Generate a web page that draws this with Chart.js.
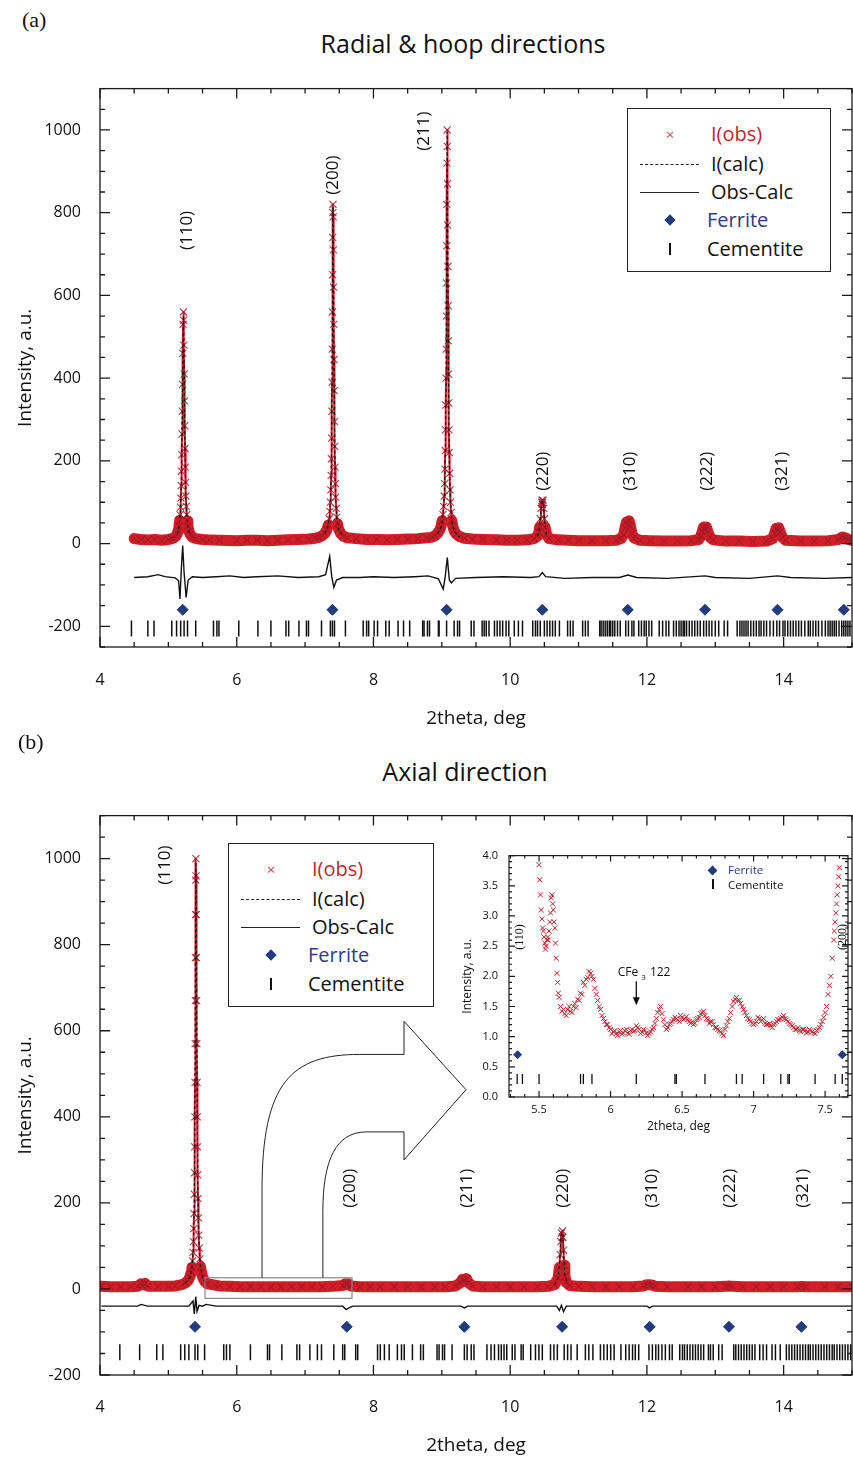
<!DOCTYPE html>
<html>
<head>
<meta charset="utf-8">
<script src="https://cdn.jsdelivr.net/npm/chart.js@4.4.1/dist/chart.umd.min.js"></script>
<style>
  body { margin: 0; background: #fff; font-family: 'Open Sans', sans-serif; color: #111; }
  #page { position: relative; width: 853px; height: 1459px; overflow: hidden; }
  canvas { position: absolute; }
  .abs { position: absolute; white-space: nowrap; }
  .plab { font-family: 'Liberation Serif', serif; font-size: 22px; line-height: 22px; }
  .ttl { font-size: 25px; line-height: 25px; transform: translateX(-50%); }
  .leg { position: absolute; border: 1.3px solid #222; background: #fff; z-index: 5; }
  .leg .t { position: absolute; font-size: 20px; line-height: 24px; transform: translateY(-50%); }
  .ileg { position: absolute; font-size: 11.5px; line-height: 12px; z-index: 5; transform: translateY(-50%); }
</style>
</head>
<body>
<div id="page">
  <div class="abs plab" style="left:22px;top:9px">(a)</div>
  <div class="abs ttl" style="left:463px;top:31px">Radial &amp; hoop directions</div>
  <canvas id="chartA" width="853" height="680" style="left:0;top:60px"></canvas>
  <div class="leg" id="legA" style="left:627px;top:108px;width:202px;height:162px"></div>

  <div class="abs plab" style="left:18px;top:731px">(b)</div>
  <div class="abs ttl" style="left:465px;top:759px">Axial direction</div>
  <canvas id="chartB" width="853" height="672" style="left:0;top:787px"></canvas>
  <div class="leg" id="legB" style="left:228px;top:843px;width:204px;height:162px"></div>
  <canvas id="inset" width="396" height="300" style="left:455px;top:838px;z-index:3"></canvas>
  <div class="ileg" style="left:709px;top:870px"><span style="display:inline-block;width:7px;height:7px;background:#213b7e;transform:rotate(45deg)"></span></div>
  <div class="ileg" style="left:728px;top:870px;color:#2e3d82">Ferrite</div>
  <div class="ileg" style="left:712px;top:885px"><span style="display:inline-block;width:1.5px;height:10px;background:#111"></span></div>
  <div class="ileg" style="left:728px;top:885px">Cementite</div>
</div>

<script>
// ---------- data: panel (a) radial & hoop ----------
const xTicks = [4, 6, 8, 10, 12, 14];
const yTicksA = [-200, 0, 200, 400, 600, 800, 1000];
const yTicksB = [-200, 0, 200, 400, 600, 800, 1000];

const obsA = [
  [4.50,12],[4.60,10],[4.70,9],[4.80,10],[4.90,8],[5.00,10],[5.05,12],
  [5.08,14],[5.11,18],[5.13,24],[5.145,32],[5.155,42],[5.165,56],[5.172,70],[5.178,88],[5.183,110],[5.188,140],
  [5.192,175],[5.196,215],[5.20,265],[5.204,320],[5.208,385],[5.212,460],[5.216,530],[5.22,560],[5.224,540],
  [5.228,480],[5.232,410],[5.236,345],[5.24,285],[5.244,230],[5.248,185],[5.252,148],[5.257,115],[5.262,90],
  [5.268,70],[5.275,55],[5.285,42],[5.30,30],[5.32,22],[5.35,16],[5.40,12],
  [5.50,10],[5.60,9],[5.75,8],[6.00,7],[6.15,8],[6.30,8],[6.45,7],[6.60,8],[6.75,9],[6.90,10],[7.05,11],[7.15,13],
  [7.20,15],[7.25,19],[7.29,25],[7.32,34],[7.34,45],[7.352,60],[7.362,78],[7.37,100],[7.376,130],[7.381,165],
  [7.385,205],[7.389,255],[7.392,320],[7.395,390],[7.398,470],[7.40,560],[7.402,650],[7.404,740],[7.406,800],
  [7.408,820],[7.411,790],[7.414,710],[7.417,620],[7.42,530],[7.423,445],[7.426,370],[7.43,295],[7.434,235],
  [7.438,185],[7.443,145],[7.448,112],[7.455,85],[7.463,64],[7.473,48],[7.49,35],[7.52,25],[7.56,18],[7.62,14],
  [7.75,12],[7.90,10],[8.05,10],[8.20,9],[8.35,10],[8.50,11],[8.65,12],[8.78,14],
  [8.85,15],[8.90,19],[8.94,25],[8.97,33],[8.99,42],[9.005,55],[9.017,70],[9.027,90],[9.035,115],[9.041,145],
  [9.046,180],[9.051,225],[9.055,275],[9.059,335],[9.062,400],[9.065,470],[9.068,550],[9.07,630],[9.072,720],
  [9.074,820],[9.076,920],[9.078,1000],[9.08,960],[9.083,870],[9.086,770],[9.089,670],[9.092,575],[9.095,490],
  [9.098,410],[9.101,340],[9.105,275],[9.109,220],[9.114,170],[9.12,130],[9.127,100],[9.135,75],[9.145,56],
  [9.16,42],[9.18,31],[9.21,23],[9.26,17],[9.33,13],
  [9.45,11],[9.60,10],[9.80,9],[9.95,8],[10.10,8],[10.25,9],[10.35,12],[10.40,18],
  [10.42,28],[10.43,40],[10.44,60],[10.45,85],[10.46,100],[10.465,105],[10.47,95],[10.475,100],[10.48,105],
  [10.49,85],[10.50,60],[10.51,40],[10.53,22],[10.57,12],[10.70,9],[10.85,8],[11.00,7],[11.20,7],[11.40,7],[11.55,8],
  [11.62,12],[11.66,22],[11.68,38],[11.70,52],[11.72,46],[11.74,55],[11.76,42],[11.78,25],[11.81,14],[11.90,8],
  [12.05,7],[12.25,6],[12.45,6],[12.65,7],[12.76,10],[12.79,18],[12.81,30],[12.83,40],[12.85,33],[12.87,40],[12.89,30],
  [12.92,16],[12.97,9],[13.15,6],[13.35,6],[13.55,5],[13.75,6],[13.84,12],[13.87,25],[13.89,37],[13.91,32],[13.93,38],
  [13.95,28],[13.98,15],[14.03,8],[14.25,6],[14.45,6],[14.65,7],[14.80,10],[14.86,16],[14.90,14],[14.95,10],[15.00,8]
];
const calcA = [
  [5.13,22],[5.155,40],[5.172,68],[5.183,108],[5.192,172],[5.20,262],[5.208,382],[5.216,528],[5.22,552],[5.224,535],
  [5.232,405],[5.24,282],[5.248,182],[5.257,112],[5.268,68],[5.285,40],[5.32,21],[5.36,null],
  [7.29,24],[7.34,44],[7.362,76],[7.376,128],[7.385,202],[7.392,318],[7.398,468],[7.402,648],[7.406,798],
  [7.408,815],[7.411,785],[7.417,615],[7.423,440],[7.43,290],[7.438,182],[7.448,110],[7.463,62],[7.49,34],
  [7.56,17],[7.60,null],
  [8.94,24],[8.99,40],[9.017,68],[9.035,112],[9.046,178],[9.055,272],[9.062,398],[9.068,548],[9.072,718],
  [9.076,918],[9.078,995],[9.08,955],[9.086,765],[9.092,570],[9.098,405],[9.105,272],[9.114,168],[9.127,98],
  [9.145,55],[9.18,30],[9.26,16],[9.30,null],
  [10.40,18],[10.43,38],[10.45,82],[10.465,100],[10.475,98],[10.485,100],[10.50,60],[10.53,22],[10.56,null]
];
const diffA = [
  [4.50,-82],[4.70,-80],[4.85,-75],[4.95,-80],[5.10,-83],[5.15,-90],[5.17,-134],[5.19,-60],[5.21,-5],[5.23,-70],
  [5.26,-130],[5.29,-88],[5.35,-80],[5.50,-82],[5.70,-80],[5.90,-78],[6.10,-82],[6.30,-80],[6.60,-78],[6.90,-82],
  [7.20,-80],[7.30,-75],[7.36,-31],[7.39,-80],[7.42,-106],[7.46,-88],[7.55,-82],[7.80,-82],[8.00,-80],[8.30,-82],
  [8.60,-80],[8.80,-78],[8.95,-85],[9.02,-110],[9.05,-80],[9.08,-34],[9.11,-88],[9.14,-95],[9.20,-84],[9.50,-82],
  [9.90,-80],[10.30,-82],[10.42,-80],[10.47,-70],[10.52,-80],[10.80,-84],[11.20,-82],[11.60,-82],[11.72,-76],
  [11.85,-82],[12.30,-84],[12.85,-78],[13.00,-82],[13.50,-84],[13.91,-78],[14.10,-82],[14.60,-84],[15.00,-82]
];
const ferriteA = [5.21, 7.40, 9.07, 10.47, 11.72, 12.85, 13.91, 14.88];
const cementiteA = [
  4.46, 4.70, 4.79, 5.05, 5.12, 5.18, 5.23, 5.28, 5.40, 5.66, 5.71, 5.74, 6.03, 6.31, 6.50, 6.72, 6.76, 6.91, 7.02, 7.05,
  7.24, 7.37, 7.40, 7.43, 7.59, 7.85, 7.90, 7.93, 8.01, 8.06, 8.18, 8.23, 8.36, 8.44, 8.53, 8.72, 8.74, 8.79, 8.82, 8.95,
  8.96, 9.07, 9.18, 9.23, 9.26, 9.43, 9.47, 9.59, 9.62, 9.65, 9.69, 9.77, 9.81, 9.85, 9.89, 9.94, 9.98, 10.06, 10.12,
  10.18, 10.33, 10.37, 10.40, 10.44, 10.50, 10.54, 10.58, 10.62, 10.66, 10.72, 10.84, 10.88, 10.92, 11.06, 11.10, 11.14,
  11.31, 11.33, 11.36, 11.39, 11.42, 11.45, 11.47, 11.50, 11.53, 11.57, 11.61, 11.69, 11.73, 11.78, 11.81, 11.88, 11.92,
  11.96, 11.99, 12.03, 12.07, 12.18, 12.23, 12.28, 12.32, 12.39, 12.43, 12.47, 12.50, 12.53, 12.55, 12.58, 12.62, 12.66,
  12.70, 12.74, 12.78, 12.83, 12.87, 12.91, 12.95, 13.00, 13.05, 13.13, 13.18, 13.32, 13.36, 13.39, 13.42, 13.45, 13.48,
  13.52, 13.56, 13.60, 13.64, 13.67, 13.71, 13.75, 13.80, 13.85, 13.90, 13.94, 13.99, 14.02, 14.06, 14.10, 14.14, 14.18,
  14.22, 14.26, 14.31, 14.36, 14.39, 14.43, 14.47, 14.51, 14.56, 14.61, 14.65, 14.68, 14.71, 14.74, 14.77, 14.81, 14.85,
  14.88, 14.91, 14.94, 14.97
];
const hklA = ['(110)', '(200)', '(211)', '(220)', '(310)', '(222)', '(321)'];
const hklPosA = [[5.27,757],[7.41,891],[8.74,997],[10.48,175],[11.75,175],[12.88,175],[13.98,175]];

// ---------- data: panel (b) axial ----------
const obsB = [
  [4.02,6],[4.15,5],[4.30,5],[4.45,5],[4.55,6],[4.60,12],[4.63,10],[4.66,13],[4.70,6],[4.85,6],[5.00,6],[5.10,7],
  [5.20,10],[5.25,14],[5.29,20],[5.315,28],[5.333,38],[5.345,50],[5.354,65],[5.361,85],[5.367,110],[5.372,140],
  [5.376,175],[5.38,220],[5.383,270],[5.386,330],[5.388,400],[5.39,480],[5.392,570],[5.394,670],[5.396,770],
  [5.398,870],[5.40,950],[5.402,1000],[5.405,960],[5.408,870],[5.411,770],[5.414,670],[5.417,570],[5.42,480],
  [5.423,400],[5.426,330],[5.43,265],[5.434,210],[5.439,165],[5.445,125],[5.452,95],[5.46,70],[5.47,52],[5.485,38],
  [5.50,28],[5.53,18],[5.57,12],
  [5.68,9],[5.75,7],[5.90,6],[6.05,5],[6.20,5],
  [6.35,5],[6.50,5],[6.65,5],[6.80,5],[6.95,5],[7.10,5],[7.25,5],[7.40,6],[7.55,8],[7.59,12],[7.61,10],[7.63,12],[7.67,7],
  [7.80,5],[7.95,5],[8.10,5],[8.30,5],[8.50,5],[8.70,5],[8.90,5],[9.05,5],[9.20,7],[9.27,14],[9.30,22],[9.33,20],[9.36,24],
  [9.39,14],[9.45,7],[9.60,5],[9.80,5],[10.00,5],[10.20,5],[10.40,5],[10.55,6],[10.65,10],[10.70,25],[10.72,50],[10.73,80],
  [10.74,110],[10.75,130],[10.76,120],[10.765,135],[10.77,120],[10.78,90],[10.79,55],[10.80,30],[10.82,15],[10.87,8],
  [11.00,6],[11.20,5],[11.40,5],[11.60,5],[11.80,5],[11.95,7],[12.00,10],[12.04,10],[12.08,9],[12.12,6],[12.30,5],
  [12.60,5],[12.80,5],[13.00,5],[13.15,6],[13.20,7],[13.25,6],[13.40,5],[13.60,5],[13.80,5],[14.00,5],[14.20,5],[14.26,6],
  [14.32,5],[14.60,5],[14.80,5],[15.00,5]
];
const calcB = [
  [5.25,13],[5.315,27],[5.345,48],[5.361,82],[5.372,138],[5.38,218],[5.386,328],[5.39,478],[5.394,668],[5.398,868],
  [5.402,992],[5.405,955],[5.411,765],[5.417,565],[5.423,395],[5.43,262],[5.439,162],[5.452,92],[5.47,50],[5.50,27],
  [5.56,12],[5.60,null],
  [10.65,10],[10.70,26],[10.72,52],[10.74,112],[10.75,128],[10.76,122],[10.77,125],[10.78,88],[10.80,30],[10.84,12],[10.90,null]
];
const diffB = [
  [4.02,-40],[4.55,-40],[4.60,-36],[4.70,-40],[5.30,-40],[5.36,-28],[5.38,-58],[5.40,-18],[5.42,-52],[5.45,-38],
  [5.50,-40],[5.55,-36],[5.70,-40],[7.55,-40],[7.60,-48],[7.64,-44],[7.70,-40],[9.28,-40],[9.33,-44],[9.38,-40],
  [10.68,-40],[10.72,-50],[10.75,-38],[10.78,-53],[10.82,-40],[12.00,-40],[12.04,-44],[12.08,-40],[15.00,-40]
];
const ferriteB = [5.39, 7.61, 9.33, 10.76, 12.04, 13.20, 14.26];
const cementiteB = [
  4.29, 4.58, 4.83, 4.92, 5.18, 5.24, 5.30, 5.39, 5.43, 5.53, 5.81, 5.85, 5.90, 6.20, 6.45, 6.48, 6.66, 6.88, 6.92, 7.07,
  7.18, 7.24, 7.42, 7.55, 7.58, 7.74, 7.77, 8.06, 8.10, 8.16, 8.23, 8.35, 8.41, 8.45, 8.57, 8.69, 8.73, 8.93, 8.96, 9.01,
  9.04, 9.15, 9.33, 9.37, 9.43, 9.47, 9.66, 9.72, 9.77, 9.83, 9.87, 9.91, 9.95, 10.03, 10.07, 10.16, 10.19, 10.30, 10.37,
  10.42, 10.47, 10.59, 10.64, 10.69, 10.79, 10.84, 10.89, 10.98, 11.10, 11.15, 11.21, 11.32, 11.37, 11.42, 11.47, 11.52,
  11.62, 11.69, 11.74, 11.79, 11.83, 11.88, 12.03, 12.08, 12.13, 12.17, 12.22, 12.27, 12.33, 12.37, 12.48, 12.52, 12.55,
  12.59, 12.63, 12.67, 12.71, 12.75, 12.79, 12.83, 12.90, 12.93, 12.97, 13.05, 13.10, 13.27, 13.30, 13.34, 13.38, 13.42,
  13.46, 13.50, 13.54, 13.58, 13.65, 13.70, 13.75, 13.83, 13.88, 13.95, 14.04, 14.08, 14.12, 14.16, 14.20, 14.24, 14.28,
  14.32, 14.36, 14.39, 14.43, 14.47, 14.51, 14.55, 14.59, 14.63, 14.67, 14.71, 14.74, 14.78, 14.82, 14.86, 14.90, 14.94,
  14.98
];
const hklB = ['(110)', '(200)', '(211)', '(220)', '(310)', '(222)', '(321)'];
const hklPosB = [[4.95,985],[7.66,234],[9.37,234],[10.77,234],[12.08,234],[13.22,234],[14.28,234]];
// zoom box + arrow pointing at the inset (drawn through the b-panel scales)
const zoomBox = [5.536, 7.686, -22, 26];
const arrowPath = [
  ['M', 6.37, 26], ['L', 6.37, 230], ['C', 6.37, 480, 6.8, 545, 7.8, 545], ['L', 8.447, 545], ['L', 8.447, 622],
  ['L', 9.354, 463], ['L', 8.447, 300], ['L', 8.447, 365], ['L', 7.9, 365], ['C', 7.45, 365, 7.26, 300, 7.26, 180],
  ['L', 7.26, 26]
];

// ---------- data: inset ----------
const xTicksInset = [5.5, 6, 6.5, 7, 7.5];
const yTicksInset = [0, 0.5, 1, 1.5, 2, 2.5, 3, 3.5, 4];
const obsInset = [
  [5.50,3.85],[5.505,3.6],[5.51,3.35],[5.515,3.1],[5.52,2.95],[5.525,2.8],[5.53,2.75],[5.535,2.65],[5.54,2.55],
  [5.545,2.45],[5.55,2.5],[5.555,2.6],[5.56,2.65],[5.565,2.6],[5.57,2.75],[5.575,2.9],[5.58,3.05],[5.585,3.3],
  [5.59,3.35],[5.595,3.2],[5.60,3.1],[5.605,2.9],[5.61,2.8],[5.615,2.55],[5.62,2.3],[5.625,2.05],[5.63,1.9],
  [5.635,1.72],[5.64,1.65],[5.65,1.5],[5.66,1.42],[5.67,1.45],[5.68,1.38],[5.69,1.35],[5.70,1.45],[5.71,1.5],
  [5.72,1.42],[5.73,1.4],[5.74,1.5],[5.75,1.55],[5.76,1.48],[5.77,1.62],[5.78,1.6],[5.79,1.72],[5.80,1.7],[5.81,1.9],
  [5.82,1.85],[5.83,1.95],[5.84,1.98],[5.85,2.08],[5.86,2.05],[5.87,2.0],[5.88,1.95],[5.89,1.8],[5.90,1.7],[5.91,1.6],
  [5.92,1.5],[5.93,1.45],[5.94,1.35],[5.95,1.3],[5.96,1.25],[5.97,1.2],[5.98,1.2],[5.99,1.15],[6.00,1.12],[6.01,1.05],
  [6.02,1.08],[6.03,1.1],[6.04,1.05],[6.05,1.02],[6.06,1.08],[6.07,1.1],[6.08,1.04],[6.09,1.06],[6.10,1.1],[6.11,1.12],
  [6.12,1.06],[6.13,1.04],[6.14,1.1],[6.15,1.12],[6.16,1.08],[6.17,1.1],[6.18,1.18],[6.19,1.15],[6.20,1.12],[6.21,1.05],
  [6.22,1.08],[6.23,1.12],[6.24,1.1],[6.25,1.06],[6.26,1.02],[6.27,1.05],[6.28,1.08],[6.29,1.12],[6.30,1.15],[6.31,1.22],
  [6.32,1.3],[6.33,1.4],[6.34,1.45],[6.35,1.5],[6.36,1.38],[6.37,1.28],[6.38,1.2],[6.39,1.12],[6.40,1.15],[6.41,1.2],
  [6.42,1.22],[6.43,1.25],[6.44,1.28],[6.45,1.32],[6.46,1.3],[6.47,1.28],[6.48,1.25],[6.49,1.35],[6.50,1.32],[6.51,1.28],
  [6.52,1.3],[6.53,1.33],[6.54,1.28],[6.55,1.25],[6.56,1.22],[6.57,1.25],[6.58,1.2],[6.59,1.22],[6.60,1.28],[6.61,1.3],
  [6.62,1.32],[6.63,1.38],[6.64,1.4],[6.65,1.42],[6.66,1.35],[6.67,1.3],[6.68,1.28],[6.69,1.22],[6.70,1.25],[6.71,1.25],
  [6.72,1.2],[6.73,1.15],[6.74,1.15],[6.75,1.12],[6.76,1.1],[6.77,1.08],[6.78,1.05],[6.79,1.02],[6.80,1.12],[6.81,1.18],
  [6.82,1.25],[6.83,1.3],[6.84,1.4],[6.85,1.5],[6.86,1.58],[6.87,1.62],[6.88,1.65],[6.89,1.6],[6.90,1.6],[6.91,1.55],
  [6.92,1.5],[6.93,1.45],[6.94,1.4],[6.95,1.35],[6.96,1.3],[6.97,1.28],[6.98,1.25],[6.99,1.22],[7.00,1.2],[7.01,1.22],
  [7.02,1.25],[7.03,1.32],[7.04,1.3],[7.05,1.25],[7.06,1.28],[7.07,1.3],[7.08,1.22],[7.09,1.2],[7.10,1.2],[7.11,1.22],
  [7.12,1.18],[7.13,1.15],[7.14,1.2],[7.15,1.22],[7.16,1.25],[7.17,1.28],[7.18,1.28],[7.19,1.3],[7.20,1.32],[7.21,1.35],
  [7.22,1.3],[7.23,1.28],[7.24,1.25],[7.25,1.22],[7.26,1.2],[7.27,1.18],[7.28,1.15],[7.29,1.12],[7.30,1.12],[7.31,1.15],
  [7.32,1.1],[7.33,1.08],[7.34,1.12],[7.35,1.12],[7.36,1.1],[7.37,1.06],[7.38,1.08],[7.39,1.12],[7.40,1.1],[7.41,1.08],
  [7.42,1.06],[7.43,1.05],[7.44,1.1],[7.45,1.12],[7.46,1.15],[7.47,1.2],[7.48,1.25],[7.49,1.32],[7.50,1.4],[7.51,1.5],
  [7.52,1.7],[7.53,1.85],[7.54,2.0],[7.55,2.3],[7.56,2.6],[7.565,2.75],[7.57,2.9],[7.575,3.05],[7.58,3.2],[7.585,3.35],
  [7.59,3.5],[7.595,3.65],[7.60,3.8]
];
const ferriteInset = [5.35, 7.62];
const cementiteInset = [5.347, 5.384, 5.50, 5.79, 5.81, 5.87, 6.18, 6.45, 6.46, 6.66, 6.88, 6.92, 7.07, 7.19, 7.24,
  7.25, 7.43, 7.57, 7.62];
const hklInset = ['(110)', '(200)'];
const hklPosInset = [[5.365, 2.65], [7.625, 2.65]];

// ---------- helpers ----------
Chart.defaults.font.family = "'Open Sans', sans-serif";
Chart.defaults.color = '#111';

const RED = 'rgb(210,30,38)';
const CROSS = 'rgba(160,25,40,0.85)';
const BLUE = '#213b7e';

function isMul(v, m) {
  return Math.abs(v / m - Math.round(v / m)) < 1e-6;
}

// frame with inward ticks on all four sides
function frameTicks(o) {
  return {
    id: 'frameTicks',
    afterDraw(chart) {
      const { ctx, chartArea: a, scales: { x, y } } = chart;
      ctx.save();
      ctx.strokeStyle = '#1a1a1a';
      ctx.lineWidth = o.lw;
      ctx.beginPath();
      for (let i = Math.ceil(x.min / o.xMinor - 1e-9); i * o.xMinor <= x.max + 1e-9; i++) {
        const v = i * o.xMinor;
        const px = x.getPixelForValue(v);
        const len = isMul(v, o.xMajor) ? o.major : o.minor;
        ctx.moveTo(px, a.bottom); ctx.lineTo(px, a.bottom - len);
        ctx.moveTo(px, a.top); ctx.lineTo(px, a.top + len);
      }
      for (let i = Math.ceil(y.min / o.yMinor - 1e-9); i * o.yMinor <= y.max + 1e-9; i++) {
        const v = i * o.yMinor;
        const py = y.getPixelForValue(v);
        const len = isMul(v, o.yMajor) ? o.major : o.minor;
        ctx.moveTo(a.left, py); ctx.lineTo(a.left + len, py);
        ctx.moveTo(a.right, py); ctx.lineTo(a.right - len, py);
      }
      ctx.stroke();
      ctx.strokeRect(a.left, a.top, a.right - a.left, a.bottom - a.top);
      ctx.restore();
    }
  };
}

// rotated peak labels
function hklLabels(labels, pos, font) {
  return {
    id: 'hkl',
    afterDatasetsDraw(chart) {
      const { ctx, scales: { x, y } } = chart;
      ctx.save();
      ctx.fillStyle = '#111';
      ctx.font = font;
      ctx.textAlign = 'center';
      ctx.textBaseline = 'middle';
      labels.forEach((t, i) => {
        ctx.save();
        ctx.translate(x.getPixelForValue(pos[i][0]), y.getPixelForValue(pos[i][1]));
        ctx.rotate(-Math.PI / 2);
        ctx.fillText(t, 0, 0);
        ctx.restore();
      });
      ctx.restore();
    }
  };
}

const zoomArrow = {
  id: 'zoomArrow',
  afterDatasetsDraw(chart) {
    const { ctx, scales: { x, y } } = chart;
    const X = v => x.getPixelForValue(v), Y = v => y.getPixelForValue(v);
    ctx.save();
    ctx.strokeStyle = '#888';
    ctx.lineWidth = 1.2;
    ctx.strokeRect(X(zoomBox[0]), Y(zoomBox[3]), X(zoomBox[1]) - X(zoomBox[0]), Y(zoomBox[2]) - Y(zoomBox[3]));
    ctx.strokeStyle = '#222';
    ctx.lineWidth = 1;
    ctx.beginPath();
    arrowPath.forEach(c => {
      if (c[0] === 'M') ctx.moveTo(X(c[1]), Y(c[2]));
      else if (c[0] === 'L') ctx.lineTo(X(c[1]), Y(c[2]));
      else ctx.bezierCurveTo(X(c[1]), Y(c[2]), X(c[3]), Y(c[4]), X(c[5]), Y(c[6]));
    });
    ctx.stroke();
    ctx.restore();
  }
};

const cfeNote = {
  id: 'cfeNote',
  afterDatasetsDraw(chart) {
    const { ctx, scales: { x, y } } = chart;
    ctx.save();
    ctx.fillStyle = '#111';
    ctx.strokeStyle = '#111';
    ctx.textBaseline = 'middle';
    let px = x.getPixelForValue(6.05);
    const py = y.getPixelForValue(2.06);
    ctx.font = "12px 'Open Sans', sans-serif";
    ctx.fillText('CFe', px, py);
    px += ctx.measureText('CFe ').width;
    ctx.font = "8px 'Open Sans', sans-serif";
    ctx.fillText('3', px, py + 5);
    px += ctx.measureText('3').width + 4;
    ctx.font = "12px 'Open Sans', sans-serif";
    ctx.fillText('122', px, py);
    const ax = x.getPixelForValue(6.18), y0 = y.getPixelForValue(1.92), y1 = y.getPixelForValue(1.52);
    ctx.lineWidth = 1.3;
    ctx.beginPath(); ctx.moveTo(ax, y0); ctx.lineTo(ax, y1 - 7); ctx.stroke();
    ctx.beginPath(); ctx.moveTo(ax - 3.5, y1 - 8); ctx.lineTo(ax + 3.5, y1 - 8); ctx.lineTo(ax, y1); ctx.closePath(); ctx.fill();
    ctx.restore();
  }
};

function axes(c) {
  return {
    x: {
      type: 'linear', min: c.xMin, max: c.xMax,
      grid: { display: false, drawTicks: false }, border: { display: false },
      afterBuildTicks: s => { s.ticks = c.xTicks.map(v => ({ value: v })); },
      afterFit: s => { s.height = c.xH; },
      ticks: { font: { size: c.tick }, color: '#111', padding: c.xPad, maxRotation: 0, autoSkip: false,
               callback: v => String(v) },
      title: { display: true, text: '2theta, deg', color: '#111', font: { size: c.ttl },
               padding: { top: 0, bottom: c.xTtlPad } }
    },
    y: {
      type: 'linear', min: c.yMin, max: c.yMax,
      grid: { display: false, drawTicks: false }, border: { display: false },
      afterBuildTicks: s => { s.ticks = c.yTicks.map(v => ({ value: v })); },
      afterFit: s => { s.width = c.yW; },
      ticks: { font: { size: c.tick }, color: '#111', padding: c.yPad, autoSkip: false,
               callback: c.yFmt || (v => String(v)) },
      title: { display: true, text: 'Intensity, a.u.', color: '#111', font: { size: c.ttl },
               padding: { top: c.yTtlPad, bottom: 0 } }
    }
  };
}

// thick red band along the background and peak feet, thin line where the pattern climbs a peak
function bandWidth(s) {
  const y = s.chart.scales.y;
  const v0 = y.getValueForPixel(s.p0.y), v1 = y.getValueForPixel(s.p1.y);
  return (v0 < 60 && v1 < 60) ? 11 : 2;
}

function mainSets(obs, calc, diff, ferrite, ferriteY, cementite, cementiteY) {
  return [
    {
      data: obs, showLine: true, borderColor: RED, borderWidth: 11,
      segment: { borderWidth: bandWidth },
      borderCapStyle: 'round', borderJoinStyle: 'round',
      pointStyle: 'crossRot', pointRadius: 5, pointBorderColor: CROSS, pointBackgroundColor: 'rgba(0,0,0,0)',
      pointBorderWidth: 1.1, order: 5
    },
    { data: calc, showLine: true, spanGaps: false, borderColor: '#111', borderWidth: 1.2, borderDash: [3, 2.5],
      pointRadius: 0, order: 1 },
    { data: diff, showLine: true, borderColor: '#111', borderWidth: 1.4, pointRadius: 0, order: 2 },
    { data: ferrite.map(v => ({ x: v, y: ferriteY })), pointStyle: 'rectRot', pointRadius: 5.5,
      backgroundColor: BLUE, borderColor: BLUE, order: 2 },
    { data: cementite.map(v => ({ x: v, y: cementiteY })), pointStyle: 'line', pointRotation: 90, pointRadius: 8,
      borderColor: '#111', pointBorderColor: '#111', pointBorderWidth: 1.5, order: 2 }
  ];
}

const common = {
  responsive: false, animation: false, events: [], devicePixelRatio: 1,
  plugins: { legend: { display: false }, tooltip: { enabled: false } }
};

// ---------- panel (a) ----------
new Chart(document.getElementById('chartA'), {
  type: 'scatter',
  data: { datasets: mainSets(obsA, calcA, diffA, ferriteA, -160, cementiteA, -205) },
  options: {
    ...common,
    layout: { autoPadding: false, padding: { top: 25, right: 1, left: 0, bottom: 0 } },
    scales: axes({ xMin: 4, xMax: 15, yMin: -250, yMax: 1100, xTicks, yTicks: yTicksA, xH: 93, yW: 100,
                   tick: 16, ttl: 19, xPad: 24, yPad: 19, xTtlPad: 10, yTtlPad: 14 })
  },
  plugins: [frameTicks({ lw: 1.3, xMinor: 0.5, xMajor: 2, yMinor: 50, yMajor: 200, major: 10, minor: 5 }),
            hklLabels(hklA, hklPosA, "17px 'Open Sans', sans-serif")]
});

// ---------- panel (b) ----------
new Chart(document.getElementById('chartB'), {
  type: 'scatter',
  data: { datasets: mainSets(obsB, calcB, diffB, ferriteB, -88, cementiteB, -147) },
  options: {
    ...common,
    layout: { autoPadding: false, padding: { top: 25, right: 1, left: 0, bottom: 0 } },
    scales: axes({ xMin: 4, xMax: 15, yMin: -200, yMax: 1100, xTicks, yTicks: yTicksB, xH: 84, yW: 100,
                   tick: 16, ttl: 19, xPad: 23, yPad: 19, xTtlPad: 2, yTtlPad: 14 })
  },
  plugins: [frameTicks({ lw: 1.3, xMinor: 0.5, xMajor: 2, yMinor: 50, yMajor: 200, major: 10, minor: 5 }),
            hklLabels(hklB, hklPosB, "17px 'Open Sans', sans-serif"), zoomArrow]
});

// ---------- inset ----------
new Chart(document.getElementById('inset'), {
  type: 'scatter',
  data: {
    datasets: [
      { data: obsInset, pointStyle: 'crossRot', pointRadius: 3.5, pointBorderColor: 'rgb(185,35,45)',
        pointBorderWidth: 1, order: 3 },
      { data: ferriteInset.map(v => ({ x: v, y: 0.7 })), pointStyle: 'rectRot', pointRadius: 4,
        backgroundColor: BLUE, borderColor: BLUE, order: 2 },
      { data: cementiteInset.map(v => ({ x: v, y: 0.3 })), pointStyle: 'line', pointRotation: 90, pointRadius: 5,
        borderColor: '#111', pointBorderColor: '#111', pointBorderWidth: 1.3, order: 2 }
    ]
  },
  options: {
    ...common,
    layout: { autoPadding: false, padding: { top: 7, right: 3, left: 0, bottom: 0 } },
    scales: axes({ xMin: 5.29, xMax: 7.66, yMin: 0, yMax: 4, xTicks: xTicksInset, yTicks: yTicksInset,
                   xH: 41, yW: 54, tick: 11, ttl: 12, xPad: 6, yPad: 11, xTtlPad: 4, yTtlPad: 5,
                   yFmt: v => v.toFixed(1) })
  },
  plugins: [frameTicks({ lw: 1.2, xMinor: 0.1, xMajor: 0.5, yMinor: 0.1, yMajor: 0.5, major: 6, minor: 3 }),
            hklLabels(hklInset, hklPosInset, "12px 'Liberation Serif', serif"), cfeNote]
});

// ---------- legends ----------
function buildLegend(id) {
  const box = document.getElementById(id);
  const rows = [25, 55, 83, 111, 140];
  const sym = [
    '<div style="position:absolute;left:35px;top:-10px;width:14px;text-align:center;font-size:15px;line-height:20px;color:#c0505a">&times;</div>',
    '<div style="position:absolute;left:12px;top:0;width:59px;border-top:1.4px dashed #222"></div>',
    '<div style="position:absolute;left:12px;top:0;width:59px;border-top:1.4px solid #222"></div>',
    '<div style="position:absolute;left:38px;top:-4px;width:8px;height:8px;background:' + BLUE + ';transform:rotate(45deg)"></div>',
    '<div style="position:absolute;left:41px;top:-6px;width:1.5px;height:12px;background:#111"></div>'
  ];
  const txt = ['I(obs)', 'I(calc)', 'Obs-Calc', 'Ferrite', 'Cementite'];
  const col = ['#c0272d', '#111', '#111', '#2e3d82', '#111'];
  const tx = [83, 83, 83, 79, 79];
  rows.forEach((r, i) => {
    const d = document.createElement('div');
    d.style.cssText = 'position:absolute;left:0;top:' + r + 'px;width:100%;height:0';
    d.innerHTML = sym[i] + '<div class="t" style="left:' + tx[i] + 'px;top:0;color:' + col[i] + '">' + txt[i] + '</div>';
    box.appendChild(d);
  });
}
buildLegend('legA');
buildLegend('legB');
</script>
</body>
</html>
